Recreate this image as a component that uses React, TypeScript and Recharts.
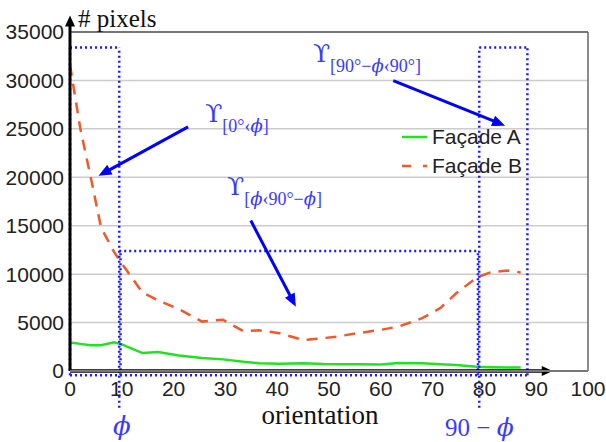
import React from 'react';
import { LineChart, Line, XAxis, YAxis, CartesianGrid, ReferenceLine, ReferenceDot, Legend } from 'recharts';

const orientation = [0, 2, 4, 6, 8.5, 10, 14, 17, 21, 25.5, 29.5, 33.5, 36.5, 40.5, 45, 49, 51.5, 55.5, 60, 63.5, 68, 71.5, 74.5, 78.5, 81, 84.5, 87];
const facadeA = [2950, 2800, 2650, 2650, 2970, 2750, 1850, 1950, 1600, 1350, 1200, 950, 800, 750, 800, 720, 700, 690, 680, 820, 800, 700, 620, 450, 400, 370, 350];
const facadeB = [31600, 25000, 20000, 14800, 12300, 11100, 8100, 7300, 6400, 5100, 5300, 4100, 4200, 3900, 3200, 3400, 3550, 3900, 4250, 4600, 5450, 6500, 8000, 9650, 10150, 10380, 10180];
const xTicks = [0, 10, 20, 30, 40, 50, 60, 70, 80, 90, 100];
const yTicks = [0, 5000, 10000, 15000, 20000, 25000, 30000, 35000];
const seriesNames = ['Façade A', 'Façade B'];

const data = orientation.map((o, i) => ({ o, a: facadeA[i], b: facadeB[i] }));

// annotation geometry (data coordinates)
const phi = 9.5;
const phi2 = 79;
const rightEdge = 88.3;
const boxTop = 33400;
const midTop = 12400;
const below = -450;
const deep = -3800;

const COLOR_A = '#22e022';
const COLOR_B = '#f0592a';
const DOT = '#1a1aff';
const ARROW = '#0000ff';
const TXT = '#3a3aff';

const dottedSegments: [number, number, number, number][] = [
  [0, below, 0, boxTop],
  [0, boxTop, phi, boxTop],
  [phi, deep, phi, boxTop],
  [phi + 0.25, below, phi + 0.25, midTop],
  [phi, midTop, phi2, midTop],
  [phi2 - 0.25, below, phi2 - 0.25, midTop],
  [phi2, deep, phi2, boxTop],
  [phi2, boxTop, rightEdge, boxTop],
  [rightEdge, below, rightEdge, boxTop],
  [0, below, rightEdge, below],
];

const arrows: [number, number, number, number][] = [
  [22.8, 25200, 5.5, 20150],
  [62.4, 29970, 84.0, 25330],
  [34.9, 15540, 43.6, 6640],
];

const arrowShape = (color: string, width: number, head: number, headW: number) => (props: any) => {
  const x1 = Number(props.x1), y1 = Number(props.y1), x2 = Number(props.x2), y2 = Number(props.y2);
  const dx = x2 - x1, dy = y2 - y1;
  const len = Math.hypot(dx, dy) || 1;
  const ux = dx / len, uy = dy / len;
  const bx = x2 - ux * head, by = y2 - uy * head;
  const px = -uy * headW, py = ux * headW;
  return (
    <g>
      <line x1={x1} y1={y1} x2={bx + ux} y2={by + uy} stroke={color} strokeWidth={width} />
      <polygon points={`${x2},${y2} ${bx + px},${by + py} ${bx - px},${by - py}`} fill={color} />
    </g>
  );
};

const serif = '"DejaVu Serif", "Liberation Serif", serif';
const serif2 = '"Liberation Serif", "DejaVu Serif", serif';
const sans = '"Liberation Sans", Arial, sans-serif';

const upsLabel = (parts: React.ReactNode) => (props: any) => (
  <g transform={`translate(${props.cx},${props.cy})`}>
    <text x={0} y={0} fill={TXT} fontFamily={serif2}>
      <tspan fontSize={25} fontFamily={serif}>ϒ</tspan>
      <tspan fontSize={18} dy={10}>{parts}</tspan>
    </text>
  </g>
);

const textDot = (node: React.ReactNode) => (props: any) => (
  <g transform={`translate(${props.cx},${props.cy})`}>{node}</g>
);

const Phi = () => <tspan fontStyle="italic" fontFamily={serif}>ϕ</tspan>;

const LegendContent = () => (
  <div style={{ fontFamily: sans, fontSize: 21, color: '#222', lineHeight: '29px' }}>
    {seriesNames.map((n, i) => (
      <div key={n} style={{ display: 'flex', alignItems: 'center', height: 29 }}>
        <svg width={30} height={10}>
          <line x1={0} y1={5} x2={25} y2={5} stroke={i === 0 ? COLOR_A : COLOR_B} strokeWidth={2.5}
            strokeDasharray={i === 0 ? undefined : '9 12'} />
        </svg>
        <span>{n}</span>
      </div>
    ))}
  </div>
);

export default function App() {
  return (
    <div style={{ position: 'absolute', left: 0, top: 0, width: 606, height: 442, background: '#fff' }}>
      <LineChart width={606} height={442} data={data} margin={{ top: 32, right: 18, bottom: 41, left: 0 }}>
        <CartesianGrid vertical={false} stroke="#cccccc" strokeWidth={1.5} />
        <XAxis
          dataKey="o"
          type="number"
          domain={[0, 100]}
          ticks={xTicks}
          height={30}
          tickSize={0}
          tickMargin={10}
          axisLine={{ stroke: '#777', strokeWidth: 2 }}
          tick={{ fontFamily: sans, fontSize: 21, fill: '#222' }}
          label={{
            value: 'orientation',
            content: (p: any) => (
              <text x={p.viewBox.x + 250} y={p.viewBox.y + 53} textAnchor="middle" fontFamily={serif2} fontSize={27} fill="#111">
                orientation
              </text>
            ),
          }}
        />
        <YAxis
          type="number"
          domain={[0, 35000]}
          ticks={yTicks}
          width={70}
          tickSize={0}
          tickMargin={6}
          axisLine={false}
          tick={{ fontFamily: sans, fontSize: 21, fill: '#222' }}
          label={{
            value: '# pixels',
            content: (p: any) => (
              <text x={p.viewBox.x + p.viewBox.width + 8} y={p.viewBox.y - 5} fontFamily={serif2} fontSize={25} fill="#111">
                # pixels
              </text>
            ),
          }}
        />
        <ReferenceLine y={35000} stroke="#555" strokeWidth={1.5} />
        <ReferenceLine x={100} stroke="#666" strokeWidth={1.5} />
        <Line type="linear" dataKey="a" name={seriesNames[0]} stroke={COLOR_A} strokeWidth={2.5} dot={false} isAnimationActive={false} />
        <Line type="linear" dataKey="b" name={seriesNames[1]} stroke={COLOR_B} strokeWidth={2.5} strokeDasharray="11 8" dot={false} isAnimationActive={false} />
        {dottedSegments.map((s, i) => (
          <ReferenceLine key={'d' + i} segment={[{ x: s[0], y: s[1] }, { x: s[2], y: s[3] }]} ifOverflow="visible"
            stroke={DOT} strokeWidth={2.5} strokeDasharray="2 3" />
        ))}
        <ReferenceLine segment={[{ x: 0, y: 0 }, { x: 0, y: 36700 }]} ifOverflow="visible" shape={arrowShape('#000', 3, 11, 5)} />
        <ReferenceLine segment={[{ x: 0, y: 0 }, { x: 93.2, y: 0 }]} ifOverflow="visible" shape={arrowShape('#000', 3.5, 11, 5)} />
        {arrows.map((a, i) => (
          <ReferenceLine key={'a' + i} segment={[{ x: a[0], y: a[1] }, { x: a[2], y: a[3] }]} ifOverflow="visible"
            shape={arrowShape(ARROW, 3, 13, 5.5)} />
        ))}
        <ReferenceDot x={26.1} y={25700} ifOverflow="visible" shape={upsLabel(<>[0°‹<Phi />]</>)} />
        <ReferenceDot x={30.3} y={18200} ifOverflow="visible" shape={upsLabel(<>[<Phi />‹90°−<Phi />]</>)} />
        <ReferenceDot x={46.9} y={31900} ifOverflow="visible" shape={upsLabel(<>[90°−<Phi />‹90°]</>)} />
        <ReferenceDot x={8.3} y={-6600} ifOverflow="visible"
          shape={textDot(<text x={0} y={0} fill={TXT} fontFamily={serif} fontSize={26} fontStyle="italic">ϕ</text>)} />
        <ReferenceDot x={72.4} y={-6700} ifOverflow="visible"
          shape={textDot(<text x={0} y={0} fill={TXT} fontFamily={serif2} fontSize={25}>90 − <Phi /></text>)} />
        <Legend layout="vertical" align="center" verticalAlign="middle" content={LegendContent as any}
          wrapperStyle={{ top: 122, left: 402, width: 140 }} />
      </LineChart>
    </div>
  );
}
